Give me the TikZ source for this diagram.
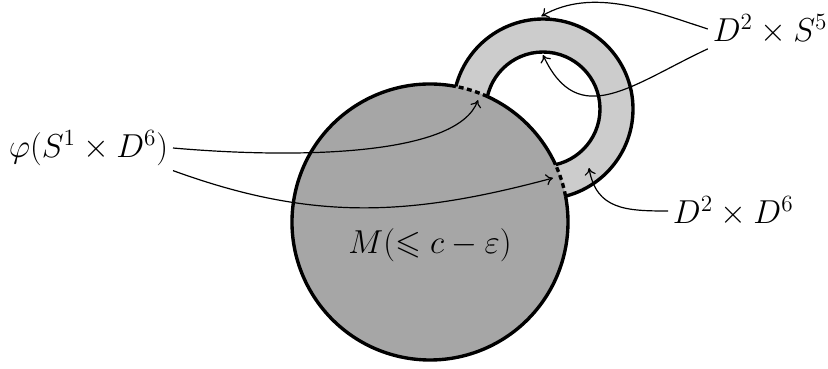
\RequirePackage{fix-cm}
\documentclass[tikz,border=0pt]{standalone}
\usepackage{amsmath,amssymb}
\usepackage{xcolor}
\usetikzlibrary{arrows.meta}
\definecolor{handle}{gray}{0.8}
\definecolor{body}{gray}{0.65}

\begin{document}
\begin{tikzpicture}[
  bd/.style={line width=2.4pt},
  att/.style={line width=2.4pt, dash pattern=on 3.5pt off 2.5pt},
  lbl/.style={font=\fontsize{23.6}{28}\selectfont},
  arr/.style={-{To[length=5pt,width=8pt]}, line width=0.85pt},
]
  \useasboundingbox (0,0) rectangle (20.7,-9.2);
  \coordinate (m) at (10.75,-5.55);
  \coordinate (h) at (13.575,-2.725);

  % handle D^2 x D^6
  \fill[handle, even odd rule] (h) circle (2.25) (h) circle (1.425);
  \draw[bd] (h) circle (2.25);
  \draw[bd] (h) circle (1.425);

  % M(<= c - eps), attaching region dashed
  \fill[body] (m) circle (3.45);
  \draw[bd] (m) ++(79.19:3.45) arc[start angle=79.19, end angle=370.81, radius=3.45];
  \draw[bd] (m) ++(24.57:3.45) arc[start angle=24.57, end angle=65.43, radius=3.45];
  \draw[att] (m) ++(10.81:3.45) arc[start angle=10.81, end angle=24.57, radius=3.45];
  \draw[att] (m) ++(65.43:3.45) arc[start angle=65.43, end angle=79.19, radius=3.45];

  \node[lbl] (mlbl) at (10.75,-6.14) {$M(\leqslant c-\varepsilon)$};
  \node[lbl] (phi) at (2.21,-3.7) {$\varphi(S^1\times D^6)$};
  \node[lbl] (s5) at (19.25,-0.725) {$D^2\times S^5$};
  \node[lbl] (d6) at (18.33,-5.275) {$D^2\times D^6$};

  \coordinate (t1) at ([shift={(91:2.32)}]h);
  \coordinate (t2) at ([shift={(90:1.35)}]h);
  \coordinate (t3) at (11.95,-2.5);
  \coordinate (t4) at (13.825,-4.45);
  \coordinate (t5) at (14.725,-4.2);

  \draw[arr] (s5.west) to[out=162, in=30, looseness=0.9] (t1);
  \draw[arr] (s5.south west) to[out=205, in=-65, looseness=1.3] (t2);
  \draw[arr] (phi.east) to[out=-5, in=-110, in looseness=0.5] (t3);
  \draw[arr] (phi.south east) to[out=-20, in=195] (t4);
  \draw[arr] (d6.west) to[out=180, in=-80, looseness=1.2] (t5);
\end{tikzpicture}
\end{document}
